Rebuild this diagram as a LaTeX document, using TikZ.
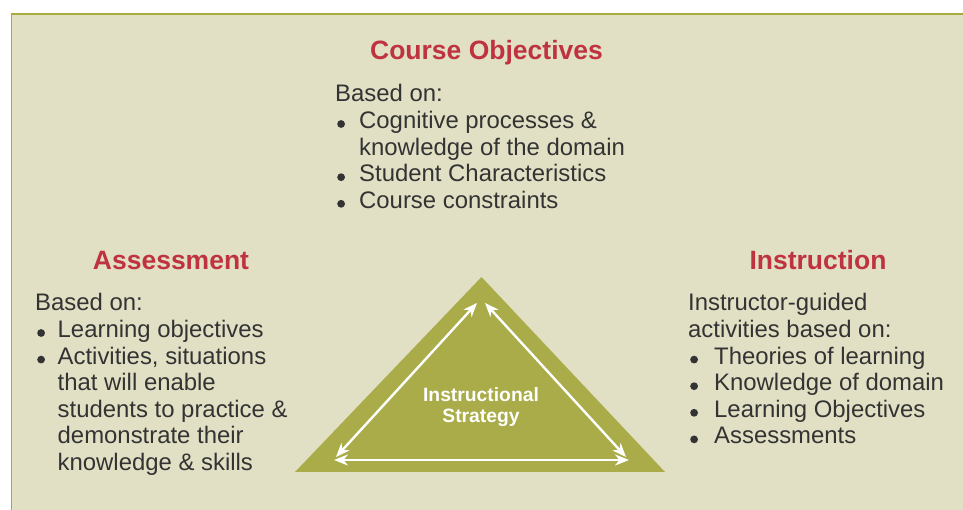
\documentclass[tikz,border=0pt]{standalone}
\usepackage{fontspec}
\setmainfont{Liberation Sans}
\usepackage{array}
\usetikzlibrary{arrows.meta}
\definecolor{panelfill}{HTML}{E2E0C4}
\definecolor{panelline}{HTML}{A8AC3F}
\definecolor{trifill}{HTML}{A9AC48}
\definecolor{headred}{HTML}{BF3341}
\definecolor{textgray}{HTML}{333333}
\newcommand{\blt}{\hspace*{2pt}\tikz[baseline=0pt]\fill[textgray] (0pt,4.6pt) circle[radius=3.9pt];}

\begin{document}
\begin{tikzpicture}[x=1pt,y=1pt,
  head/.style={anchor=base,text=headred,inner sep=0pt,font=\bfseries\fontsize{26.5}{30}\selectfont},
  body/.style={anchor=base west,text=textgray,inner sep=0pt,font=\fontsize{23.9}{26.6}\selectfont},
  twoway/.style={white,line width=2.4pt,{Stealth[length=14pt,width=11pt]}-{Stealth[length=14pt,width=11pt]}}]
 \useasboundingbox (0,0) rectangle (963,510);
 % panel
 \fill[panelfill] (11.5,0) rectangle (963,496);
 \draw[panelline,line width=1.3pt] (11.5,0) |- (963,496);
 %
 % strategy triangle
 \fill[trifill] (481.5,233) -- (665,38) -- (295,38) -- cycle;
 \coordinate (topl) at (477,207);
 \coordinate (topr) at (485,207);
 \coordinate (lowl) at (336,53);
 \coordinate (lowr) at (626,53);
 \coordinate (basel) at (334,50);
 \coordinate (baser) at (629,50);
 \draw[twoway] (lowl) -- (topl);
 \draw[twoway] (topr) -- (lowr);
 \draw[twoway] (basel) -- (baser);
 \node[align=center,text=white,inner sep=0pt,font=\bfseries\fontsize{19.3}{21}\selectfont]
  (strategy) at (481,102.5) {Instructional\\Strategy};
 %
 % course objectives
 \node[head] (objhead) at (486.5,450) {Course Objectives};
 \node[body] (objlist) at (335,408) {\begin{tabular}[t]{@{}p{24pt}@{}l@{}}
  \multicolumn{2}{@{}l@{}}{Based on:}\\
  \blt & Cognitive processes \&\\
       & knowledge of the domain\\
  \blt & Student Characteristics\\
  \blt & Course constraints
 \end{tabular}};
 %
 % assessment
 \node[head] (asshead) at (171,240) {Assessment};
 \node[body] (asslist) at (35,199) {\begin{tabular}[t]{@{}p{22.5pt}@{}l@{}}
  \multicolumn{2}{@{}l@{}}{Based on:}\\
  \blt & Learning objectives\\
  \blt & Activities, situations\\
       & that will enable\\
       & students to practice \&\\
       & demonstrate their\\
       & knowledge \& skills
 \end{tabular}};
 %
 % instruction
 \node[head] (insthead) at (818,240) {Instruction};
 \node[body] (instlist) at (688,199) {\begin{tabular}[t]{@{}p{26pt}@{}l@{}}
  \multicolumn{2}{@{}l@{}}{Instructor-guided}\\
  \multicolumn{2}{@{}l@{}}{activities based on:}\\
  \blt & Theories of learning\\
  \blt & Knowledge of domain\\
  \blt & Learning Objectives\\
  \blt & Assessments
 \end{tabular}};
\end{tikzpicture}
\end{document}
